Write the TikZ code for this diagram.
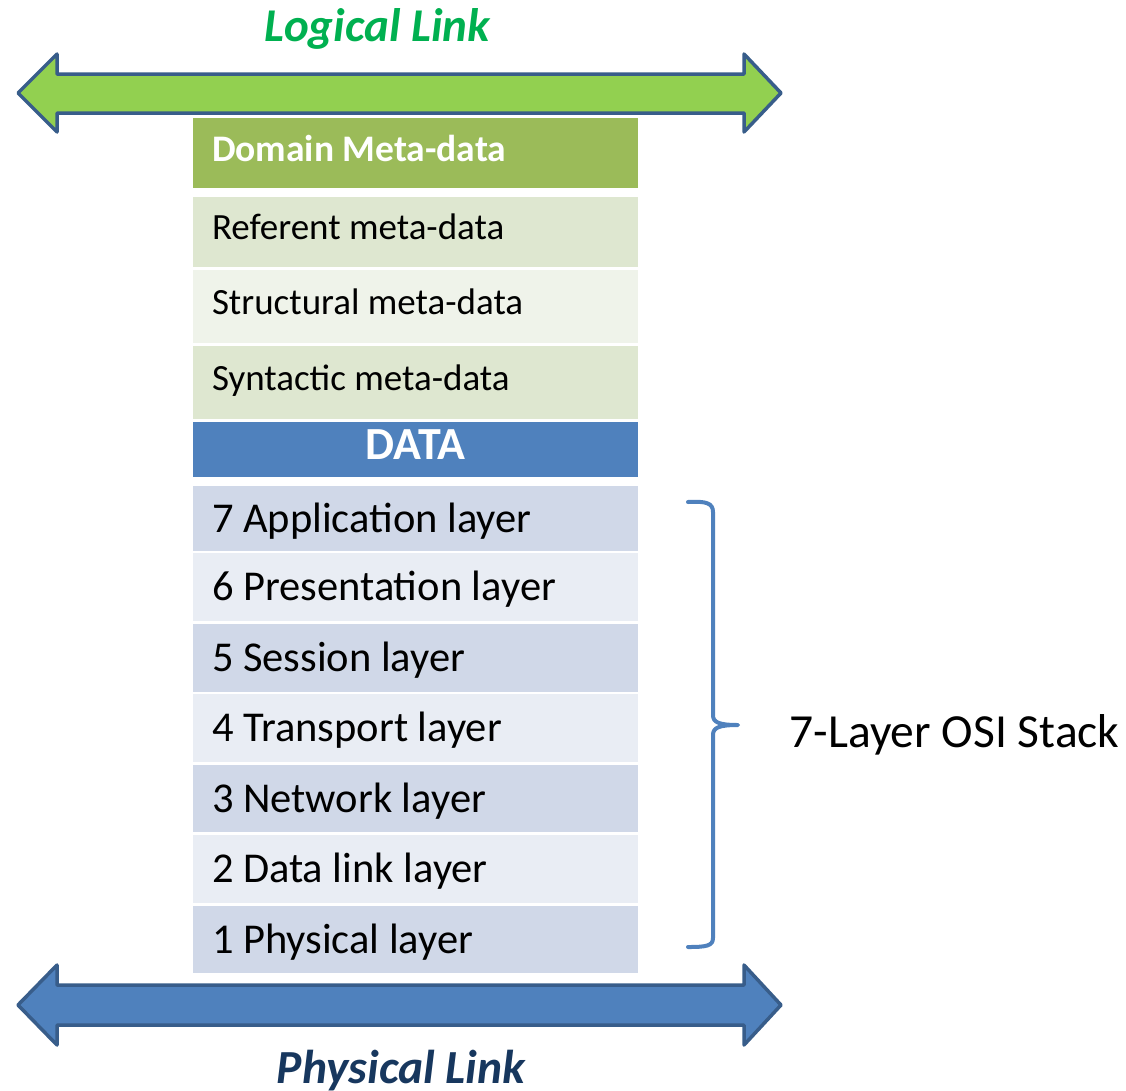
\documentclass[tikz,border=0pt]{standalone}
\usepackage{fontspec}
\setmainfont{Carlito}
\definecolor{domaingreen}{HTML}{9BBB59}
\definecolor{metaband}{HTML}{DEE7D0}
\definecolor{metalight}{HTML}{EFF3EA}
\definecolor{datablue}{HTML}{4F81BD}
\definecolor{layerdark}{HTML}{D0D8E8}
\definecolor{layerlight}{HTML}{E9EDF4}
\definecolor{arrowgreen}{HTML}{92D050}
\definecolor{arrowedge}{HTML}{385D8A}
\definecolor{logicgreen}{HTML}{00B050}
\definecolor{physnavy}{HTML}{17375E}
\begin{document}
\begin{tikzpicture}[x=1pt,y=-1pt,
  % rows keep the font's own word spacing inside the left-aligned box
  rowbox/.style={draw=none, anchor=north west, outer sep=0pt, inner ysep=0pt,
    inner xsep=19pt, text width=407pt, align=left,
    execute at begin node={\spaceskip=0pt\xspaceskip=0pt\relax}},
  metabox/.style={rowbox, font=\fontsize{37}{40}\selectfont, text height=23pt, text depth=8pt},
  domainbox/.style={rowbox, fill=domaingreen, text=white, font=\bfseries\fontsize{37.5}{41}\selectfont,
    text height=24pt, text depth=8pt},
  databox/.style={rowbox, fill=datablue, text=white, align=center,
    font=\bfseries\fontsize{46}{50}\selectfont, text height=29pt, text depth=9pt},
  layerbox/.style={rowbox, font=\fontsize{42.5}{46}\selectfont, text height=27pt, text depth=0pt},
  linkarrow/.style={draw=arrowedge, line width=3.5pt, line join=round},
  bracket/.style={draw=datablue, line width=4pt, line cap=round, line join=round},
  linktitle/.style={anchor=base, font=\bfseries\itshape\fontsize{47}{51}\selectfont}
]
\useasboundingbox (0,0) rectangle (1126,1090);

% link arrows
\path[linkarrow, fill=arrowgreen]
  (18,93) -- (57,54) -- (57,74) -- (744,74) -- (744,54) -- (781,93)
  -- (744,132) -- (744,113) -- (57,113) -- (57,132) -- cycle;
\path[linkarrow, fill=datablue]
  (18,1005) -- (57,965) -- (57,985) -- (744,985) -- (744,965) -- (781,1005)
  -- (744,1045) -- (744,1025) -- (57,1025) -- (57,1045) -- cycle;

\node[linktitle, text=logicgreen] (logical) at (377,41) {Logical Link};
\node[linktitle, text=physnavy, font=\bfseries\itshape\fontsize{47.5}{51}\selectfont] (physical) at (401,1083) {Physical Link};

% meta-data rows
\node[domainbox, minimum height=70pt] (dom) at (193,118) {Domain Meta-data};
\node[metabox, fill=metaband, minimum height=70pt] (ref) at (193,197) {Referent meta-data};
\node[metabox, fill=metalight, minimum height=73pt] (str) at (193,270) {Structural meta-data};
\node[metabox, fill=metaband, minimum height=73pt] (syn) at (193,346) {Syntactic meta-data};
\node[databox, minimum height=55pt] (data) at (193,422) {DATA};

% OSI layers
\node[layerbox, fill=layerdark, minimum height=65pt] (l7) at (193,486) {7 Application layer};
\node[layerbox, fill=layerlight, minimum height=68pt] (l6) at (193,553) {6 Presentation layer};
\node[layerbox, fill=layerdark, minimum height=68pt] (l5) at (193,624) {5 Session layer};
\node[layerbox, fill=layerlight, minimum height=68pt] (l4) at (193,694) {4 Transport layer};
\node[layerbox, fill=layerdark, minimum height=67pt] (l3) at (193,765) {3 Network layer};
\node[layerbox, fill=layerlight, minimum height=68pt] (l2) at (193,835) {2 Data link layer};
\node[layerbox, fill=layerdark, minimum height=67pt] (l1) at (193,906) {1 Physical layer};

% brace grouping the stack
\coordinate (bracetop) at (688,502);
\coordinate (bracetip) at (738,725);
\coordinate (bracebot) at (688,947);
\draw[bracket] (bracetop) .. controls (706,501) and (713,503) .. (713,512)
  -- (713,715) .. controls (713,722) and (718,725) .. (bracetip)
  .. controls (718,725) and (713,728) .. (713,735)
  -- (713,938) .. controls (713,946) and (706,947) .. (bracebot);
\node[anchor=base west, font=\fontsize{47.5}{52}\selectfont] (osi) at (786,747) {7-Layer OSI Stack};
\end{tikzpicture}
\end{document}
